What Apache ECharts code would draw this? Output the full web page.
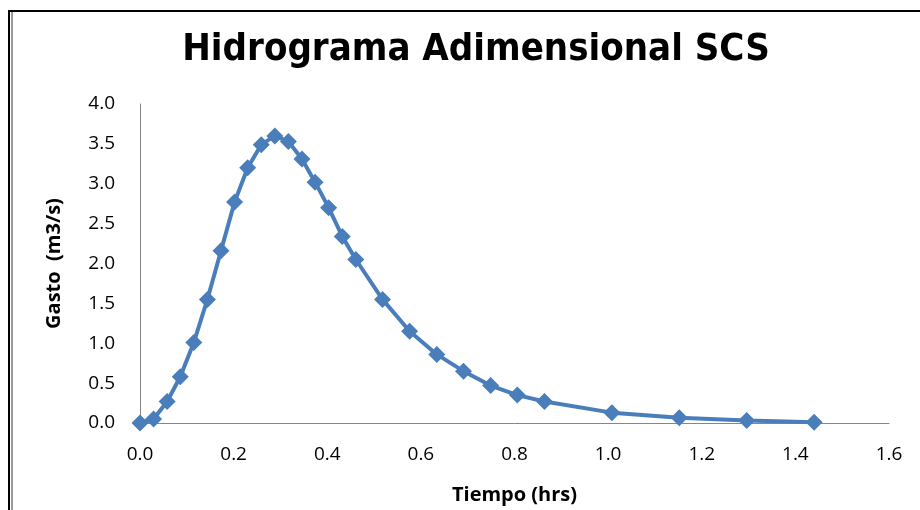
<!DOCTYPE html>
<html>
<head>
<meta charset="utf-8">
<script src="https://cdn.jsdelivr.net/npm/echarts@6/dist/echarts.min.js"></script>
<style>
  html, body { margin: 0; padding: 0; background: #fff; }
  #chart { position: absolute; left: 0; top: 0; width: 920px; height: 510px; }
  .frameBlack { position: absolute; left: 8px; top: 10px; width: 912px; height: 500px;
    border-left: 2px solid #000; border-top: 2px solid #000; pointer-events: none; }
  .frameGray { position: absolute; left: 11px; top: 12px; width: 2px; height: 498px;
    background: #9a9a9a; pointer-events: none; }
</style>
</head>
<body>
<div id="chart"></div>
<div class="frameBlack"></div>
<div class="frameGray"></div>
<script>
// tiempo (hrs) y gasto (m3/s)
const tiempo = [0, 0.029, 0.058, 0.086, 0.115, 0.144, 0.173, 0.202, 0.230, 0.259,
  0.288, 0.317, 0.346, 0.374, 0.403, 0.432, 0.461, 0.518, 0.576, 0.634,
  0.691, 0.749, 0.806, 0.864, 1.008, 1.152, 1.296, 1.440];
const gasto = [0, 0.05, 0.27, 0.58, 1.01, 1.55, 2.16, 2.77, 3.20, 3.49,
  3.60, 3.53, 3.31, 3.02, 2.70, 2.34, 2.05, 1.55, 1.15, 0.86,
  0.65, 0.47, 0.35, 0.27, 0.13, 0.065, 0.03, 0.01];

const puntos = tiempo.map((t, i) => [t, gasto[i]]);

const chartDom = document.getElementById('chart');
const chart = echarts.init(chartDom);

const option = {
  animation: false,
  title: {
    text: 'Hidrograma Adimensional SCS',
    left: 471,
    textAlign: 'center',
    top: 26,
    textStyle: {
      fontFamily: '"DejaVu Sans Condensed", "Liberation Sans"',
      fontWeight: 'bold',
      fontSize: 38,
      color: '#000'
    }
  },
  grid: {
    left: 140,
    right: 31,
    top: 104,
    bottom: 87
  },
  xAxis: {
    type: 'value',
    min: 0,
    max: 1.6,
    interval: 0.2,
    name: 'Tiempo (hrs)',
    nameLocation: 'middle',
    nameGap: 62,
    nameTextStyle: { fontFamily: 'Open Sans', fontWeight: 'bold', fontSize: 20, color: '#000' },
    axisLine: { lineStyle: { color: '#868686', width: 1 } },
    axisTick: { show: false },
    splitLine: { show: false },
    axisLabel: {
      formatter: v => v.toFixed(1),
      margin: 22,
      fontFamily: 'Open Sans',
      fontSize: 19,
      color: '#000'
    }
  },
  yAxis: {
    type: 'value',
    min: 0,
    max: 4,
    interval: 0.5,
    name: 'Gasto  (m3/s)',
    nameLocation: 'middle',
    nameGap: 76,
    nameTextStyle: { fontFamily: 'Open Sans', fontWeight: 'bold', fontSize: 20, color: '#000' },
    axisLine: { show: true, lineStyle: { color: '#868686', width: 1 } },
    axisTick: { show: false },
    splitLine: { show: false },
    axisLabel: {
      formatter: v => v.toFixed(1),
      margin: 25,
      fontFamily: 'Open Sans',
      fontSize: 19,
      color: '#000'
    }
  },
  series: [
    {
      type: 'line',
      data: puntos,
      symbol: 'diamond',
      symbolSize: 17,
      showAllSymbol: true,
      lineStyle: { color: '#4A7EBB', width: 4 },
      itemStyle: { color: '#4A7EBB' }
    }
  ]
};

chart.setOption(option);
</script>
</body>
</html>
